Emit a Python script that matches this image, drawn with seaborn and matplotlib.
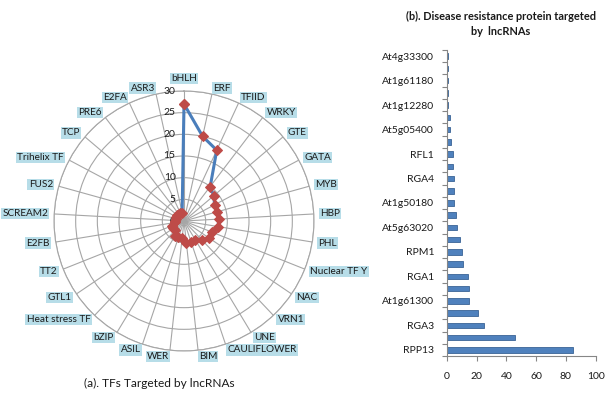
import numpy as np
import pandas as pd
import matplotlib
matplotlib.use("Agg")
import matplotlib.pyplot as plt
import seaborn as sns

# Transcription factor families targeted by lncRNAs (radar, clockwise from top)
tf_names = ["bHLH", "ERF", "TFIID", "WRKY", "GTE", "GATA", "MYB", "HBP", "PHL",
            "Nuclear TF Y", "NAC", "VRN1", "UNE", "CAULIFLOWER", "BIM", "WER",
            "ASIL", "bZIP", "Heat stress TF", "GTL1", "TT2", "E2FB", "SCREAM2",
            "FUS2", "Trihelix TF", "TCP", "PRE6", "E2FA", "ASR3"]
tf_counts = [27, 20, 18, 10, 9, 8, 8, 8, 8, 7, 7, 6, 5, 5, 5, 4, 4, 4, 3, 3, 3,
             2, 2, 2, 2, 2, 2, 2, 2]
radar_ticks = [0, 5, 10, 15, 20, 25, 30]

# Disease resistance proteins targeted by lncRNAs (bars, bottom to top)
rp_counts = [85, 46, 25, 21, 15, 15, 14, 11, 10, 9, 7, 6, 5, 5, 5, 4, 4, 3, 2, 2,
             1, 1, 1, 1, 1]
rp_labels = ["RPP13", "RGA3", "At1g61300", "RGA1", "RPM1", "At5g63020",
             "At1g50180", "RGA4", "RFL1", "At5g05400", "At1g12280",
             "At1g61180", "At4g33300"]
bar_ticks = [0, 20, 40, 60, 80, 100]

sns.set_style("white")
plt.rcParams["font.family"] = ["Lato", "DejaVu Sans"]

W, H = 613, 393
fig = plt.figure(figsize=(W / 100, H / 100), dpi=100)

GRID = "#a6a6a6"
TXT = "#1a1a1a"

# ---------------- (a) radar ----------------
cx, cy, R = 184, 221, 130
ax = fig.add_axes([(cx - R) / W, (H - cy - R) / H, 2 * R / W, 2 * R / H],
                  projection="polar")
ax.set_theta_zero_location("N")
ax.set_theta_direction(-1)
n = len(tf_names)
theta = np.linspace(0, 2 * np.pi, n, endpoint=False)

radar_df = pd.DataFrame({"theta": np.append(theta, 2 * np.pi),
                         "count": tf_counts + tf_counts[:1]})
sns.lineplot(data=radar_df, x="theta", y="count", ax=ax, sort=False,
             color="#4a7ebb", linewidth=2.2, marker="D", markersize=5,
             markerfacecolor="#be4b48", markeredgecolor="#be4b48", zorder=5)

ax.set_ylim(0, radar_ticks[-1])
ax.set_yticks(radar_ticks)
ax.set_yticklabels([])
ax.set_xticks(theta)
ax.set_xticklabels([])
ax.set_xlabel("")
ax.set_ylabel("")
ax.grid(True, color=GRID, linewidth=0.8)
ax.spines["polar"].set_color(GRID)
ax.spines["polar"].set_linewidth(0.8)

for v in radar_ticks:
    ax.annotate(str(v), xy=(0, v), xytext=(-6, 0), textcoords="offset points",
                ha="right", va="center", fontsize=7.5, color=TXT)

for t, name in zip(theta, tf_names):
    s = np.sin(t)
    if abs(s) < 0.01:
        ha, va, r = "center", "bottom", 31.8
    else:
        ha, va, r = ("left" if s > 0 else "right"), "center", 31.4
    ax.text(t, r, name, ha=ha, va=va, fontsize=7.2, color=TXT,
            bbox=dict(boxstyle="square,pad=0.12", fc="#b7dde8", ec="none"))

fig.text(159 / W, 1 - 383 / H, "(a). TFs Targeted by lncRNAs", ha="center",
         va="center", fontsize=8.6, color=TXT)

# ---------------- (b) bars ----------------
x0, x1, ytop, ybot = 446.7, 595.7, 50, 356
ax2 = fig.add_axes([x0 / W, (H - ybot) / H, (x1 - x0) / W, (ybot - ytop) / H])
bar_df = pd.DataFrame({"count": rp_counts, "rank": np.arange(len(rp_counts))})
sns.barplot(data=bar_df, x="count", y="rank", orient="h", native_scale=True,
            color="#4f81bd", edgecolor="#3a6396", linewidth=0.6, width=0.45,
            saturation=1, ax=ax2)
ax2.set_xlim(bar_ticks[0], bar_ticks[-1])
ax2.set_ylim(-0.5, len(rp_counts) - 0.5)
ax2.set_xticks(bar_ticks)
ax2.set_xticklabels([str(v) for v in bar_ticks], fontsize=7.5, color=TXT)
ax2.set_yticks(np.arange(0, len(rp_counts), 2))
ax2.set_yticklabels(rp_labels, fontsize=7.5, color=TXT)
ax2.set_yticks(np.arange(-0.5, len(rp_counts), 1), minor=True)
ax2.tick_params(axis="y", which="major", length=0, pad=9)
ax2.tick_params(axis="y", which="minor", length=3.5, color="#868686", width=0.8,
                direction="out", left=True)
ax2.tick_params(axis="x", which="major", length=3.5, color="#868686", width=0.8,
                direction="out", bottom=True, pad=8)
ax2.set_xlabel("")
ax2.set_ylabel("")
for side in ["top", "right"]:
    ax2.spines[side].set_visible(False)
for side in ["left", "bottom"]:
    ax2.spines[side].set_color("#868686")
    ax2.spines[side].set_linewidth(0.8)

fig.text(501 / W, 1 - 24 / H,
         "(b). Disease resistance protein targeted\nby  lncRNAs",
         ha="center", va="center", fontsize=7.9, fontweight="bold", color=TXT,
         linespacing=1.5)

fig.savefig("out.png", dpi=100)
